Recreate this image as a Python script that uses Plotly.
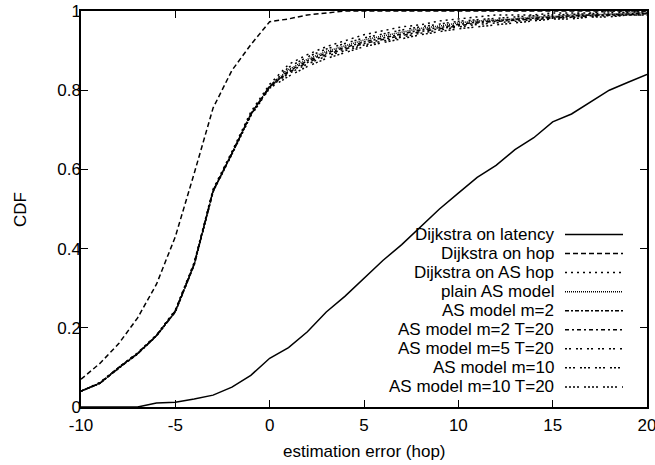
import plotly.graph_objects as go

x_err = list(range(-10, 21))

dijkstra_latency = [0.0, 0.0, 0.0, 0.0, 0.01, 0.012, 0.02, 0.03, 0.05, 0.08, 0.123,
                    0.15, 0.19, 0.24, 0.28, 0.325, 0.37, 0.41, 0.455, 0.50, 0.54,
                    0.58, 0.61, 0.65, 0.68, 0.72, 0.74, 0.77, 0.80, 0.82, 0.84]
dijkstra_hop = [0.07, 0.11, 0.16, 0.225, 0.31, 0.43, 0.59, 0.755, 0.85, 0.915, 0.973,
                0.98, 0.99, 0.995, 1.0, 1.0, 1.0, 1.0, 1.0, 1.0, 1.0,
                1.0, 1.0, 1.0, 1.0, 1.0, 1.0, 1.0, 1.0, 1.0, 1.0]
dijkstra_as_hop = [0.04, 0.062, 0.1, 0.137, 0.182, 0.245, 0.365, 0.55, 0.645, 0.745, 0.815,
                   0.865, 0.89, 0.91, 0.925, 0.94, 0.95, 0.96, 0.965, 0.975, 0.98,
                   0.985, 0.99, 0.99, 0.99, 0.995, 0.995, 0.995, 1.0, 1.0, 1.0]
plain_as_model = [0.04, 0.06, 0.1, 0.135, 0.18, 0.24, 0.36, 0.545, 0.64, 0.74, 0.81,
                  0.852, 0.878, 0.898, 0.912, 0.927, 0.937, 0.947, 0.956, 0.962, 0.97,
                  0.975, 0.978, 0.98, 0.985, 0.986, 0.99, 0.99, 0.992, 0.995, 0.995]
as_m2 = [0.04, 0.06, 0.098, 0.134, 0.18, 0.24, 0.36, 0.545, 0.64, 0.738, 0.808,
         0.848, 0.874, 0.894, 0.908, 0.922, 0.932, 0.942, 0.952, 0.958, 0.966,
         0.972, 0.976, 0.979, 0.982, 0.985, 0.988, 0.99, 0.99, 0.993, 0.995]
as_m2_t20 = [0.04, 0.06, 0.1, 0.136, 0.181, 0.243, 0.362, 0.547, 0.642, 0.74, 0.81,
             0.845, 0.87, 0.89, 0.904, 0.918, 0.928, 0.938, 0.948, 0.955, 0.963,
             0.97, 0.974, 0.977, 0.98, 0.983, 0.986, 0.988, 0.99, 0.99, 0.993]
as_m5_t20 = [0.04, 0.06, 0.099, 0.135, 0.18, 0.242, 0.36, 0.545, 0.64, 0.738, 0.808,
             0.842, 0.866, 0.886, 0.9, 0.914, 0.924, 0.934, 0.944, 0.952, 0.96,
             0.966, 0.97, 0.974, 0.978, 0.982, 0.984, 0.986, 0.988, 0.99, 0.99]
as_m10 = [0.04, 0.06, 0.1, 0.135, 0.181, 0.243, 0.362, 0.546, 0.641, 0.739, 0.81,
          0.858, 0.884, 0.904, 0.918, 0.932, 0.942, 0.952, 0.96, 0.967, 0.974,
          0.978, 0.982, 0.985, 0.988, 0.99, 0.992, 0.994, 0.995, 0.997, 0.998]
as_m10_t20 = [0.04, 0.06, 0.098, 0.134, 0.179, 0.241, 0.358, 0.543, 0.638, 0.735, 0.805,
              0.835, 0.86, 0.88, 0.895, 0.91, 0.92, 0.93, 0.94, 0.948, 0.955,
              0.96, 0.965, 0.97, 0.975, 0.98, 0.98, 0.985, 0.985, 0.99, 0.99]

series_names = ["Dijkstra on latency", "Dijkstra on hop", "Dijkstra on AS hop",
                "plain AS model", "AS model m=2", "AS model m=2 T=20",
                "AS model m=5 T=20", "AS model m=10", "AS model m=10 T=20"]
series_values = [dijkstra_latency, dijkstra_hop, dijkstra_as_hop, plain_as_model,
                 as_m2, as_m2_t20, as_m5_t20, as_m10, as_m10_t20]
dash_styles = ["solid", "5px,3px", "2px,4px", "1px,1px", "4px,2px,2px,2px",
               "4px,3px,2px,3px", "2px,2px,2px,5px", "2px,2px,2px,2px,2px,5px",
               "2px,2px,2px,2px,2px,2px,2px,5px"]

x_ticks = [-10, -5, 0, 5, 10, 15, 20]
x_tick_labels = ["-10", "-5", "0", "5", "10", "15", "20"]
y_ticks = [0, 0.2, 0.4, 0.6, 0.8, 1.0]
y_tick_labels = ["0", "0.2", "0.4", "0.6", "0.8", "1"]

FONT = "Liberation Sans, Arial, Helvetica, sans-serif"

fig = go.Figure()
for name, vals, dash in zip(series_names, series_values, dash_styles):
    fig.add_trace(go.Scatter(x=x_err, y=vals, mode="lines", name=name,
                             line=dict(color="black", width=1.5, dash=dash),
                             showlegend=False))

# gnuplot-style legend: right-aligned text, sample line to the right
L, R, T, B = 81, 647, 11, 407
def px_to_paper_x(px):
    return (px - L) / (R - L)
def px_to_paper_y(py):
    return (B - py) / (B - T)

row0, row_step = 234.5, 19.05
for i, (name, dash) in enumerate(zip(series_names, dash_styles)):
    py = row0 + i * row_step
    fig.add_annotation(x=px_to_paper_x(556), y=px_to_paper_y(py), xref="paper", yref="paper",
                       text=name, showarrow=False, xanchor="right", yanchor="middle",
                       font=dict(family=FONT, size=17, color="black"))
    fig.add_shape(type="line", xref="paper", yref="paper",
                  x0=px_to_paper_x(565), x1=px_to_paper_x(623),
                  y0=px_to_paper_y(py), y1=px_to_paper_y(py),
                  line=dict(color="black", width=1.5, dash=dash))

# axis titles
fig.add_annotation(x=px_to_paper_x(364), y=px_to_paper_y(451), xref="paper", yref="paper",
                   text="estimation error (hop)", showarrow=False,
                   xanchor="center", yanchor="middle",
                   font=dict(family=FONT, size=17, color="black"))
fig.add_annotation(x=px_to_paper_x(20), y=px_to_paper_y(210), xref="paper", yref="paper",
                   text="CDF", showarrow=False, textangle=-90,
                   xanchor="center", yanchor="middle",
                   font=dict(family=FONT, size=17, color="black"))

axis_common = dict(showline=True, linecolor="black", linewidth=1.5, mirror="ticks",
                   ticks="inside", ticklen=7, tickcolor="black", tickwidth=1,
                   showgrid=False, zeroline=False, automargin=False,
                   ticklabeloverflow="allow",
                   tickfont=dict(family=FONT, size=17, color="black"))

fig.update_xaxes(range=[-10, 20], tickvals=x_ticks, ticktext=x_tick_labels,
                 ticklabelstandoff=2, **axis_common)
fig.update_yaxes(range=[0, 1], tickvals=y_ticks, ticktext=y_tick_labels,
                 ticklabelstandoff=-5, **axis_common)

fig.update_layout(width=655, height=465,
                  margin=dict(l=81, r=8, t=11, b=58),
                  plot_bgcolor="white", paper_bgcolor="white",
                  hovermode=False,
                  font=dict(family=FONT, size=17, color="black"))

fig.write_html("out.html", config={"displayModeBar": False},
               post_script="document.body.style.margin='0';document.body.style.overflow='hidden';")
